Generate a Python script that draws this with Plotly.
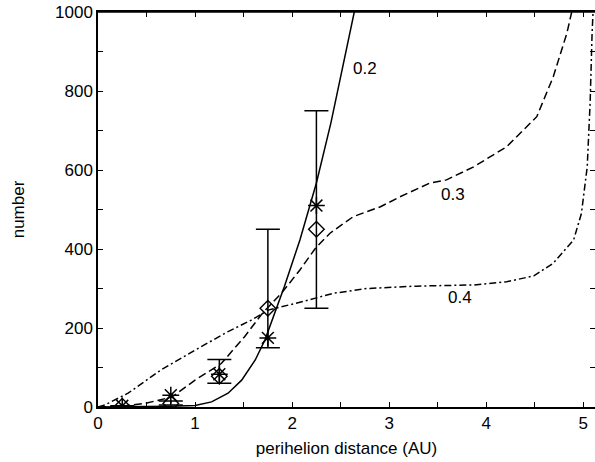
import plotly.graph_objects as go

# ---- data ----
curve02_x = [0, 0.25, 0.5, 0.75, 1.0, 1.17, 1.34, 1.48, 1.62, 1.72, 1.82, 1.92, 2.08, 2.25, 2.4, 2.53, 2.64]
curve02_y = [0, 0, 1, 2, 4, 13, 35, 68, 119, 170, 237, 305, 423, 567, 720, 870, 1000]

curve03_x = [0, 0.25, 0.48, 0.76, 1.0, 1.27, 1.51, 1.68, 1.75, 1.89, 2.08, 2.24, 2.39, 2.63, 2.91, 3.11,
             3.42, 3.59, 3.87, 4.21, 4.52, 4.69, 4.83, 4.88]
curve03_y = [0, 2, 9, 25, 68, 110, 178, 233, 252, 288, 347, 402, 440, 482, 507, 532,
             567, 575, 608, 659, 735, 836, 946, 1000]

curve04_x = [0, 0.07, 0.31, 0.65, 1.0, 1.34, 1.58, 1.76, 2.03, 2.43, 2.77, 3.28, 3.87, 4.21, 4.49, 4.69,
             4.90, 4.98, 5.04, 5.07, 5.09, 5.10]
curve04_y = [0, 5, 35, 94, 144, 191, 220, 246, 262, 288, 300, 306, 309, 317, 332, 364,
             423, 490, 608, 772, 946, 1000]

bin_x = [0.25, 0.75, 1.25, 1.75, 2.25]
star_y = [3, 30, 83, 175, 510]
diamond_y = [2, 9, 78, 250, 450]
obs_center = [2, 10, 90, 300, 500]
obs_err = [1, 5, 30, 150, 250]

curve_labels = ["0.2", "0.3", "0.4"]
label_x = [2.75, 3.66, 3.73]
label_y = [858, 537, 278]

x_tickvals = [0, 0.5, 1, 1.5, 2, 2.5, 3, 3.5, 4, 4.5, 5]
x_ticktext = ["0", "", "1", "", "2", "", "3", "", "4", "", "5"]
y_tickvals = [0, 100, 200, 300, 400, 500, 600, 700, 800, 900, 1000]
y_ticktext = ["0", "", "200", "", "400", "", "600", "", "800", "", "1000"]

FONT = "Liberation Sans, Arial, sans-serif"
FS = 17
fig = go.Figure()

fig.add_trace(go.Scatter(x=curve02_x, y=curve02_y, mode="lines",
                         line=dict(color="black", width=1.5), showlegend=False))
fig.add_trace(go.Scatter(x=curve03_x, y=curve03_y, mode="lines",
                         line=dict(color="black", width=1.5, dash="8px,4px"), showlegend=False))
fig.add_trace(go.Scatter(x=curve04_x, y=curve04_y, mode="lines",
                         line=dict(color="black", width=1.5, dash="7px,3px,2px,3px"), showlegend=False))

fig.add_trace(go.Scatter(x=bin_x, y=obs_center, mode="markers",
                         marker=dict(size=1, color="rgba(0,0,0,0)"),
                         error_y=dict(type="data", array=obs_err, visible=True,
                                      color="black", thickness=1.5, width=12),
                         showlegend=False))
fig.add_trace(go.Scatter(x=bin_x, y=star_y, mode="markers",
                         marker=dict(symbol="asterisk-open", size=14, color="black",
                                     line=dict(color="black", width=1.5)),
                         showlegend=False))
fig.add_trace(go.Scatter(x=bin_x, y=diamond_y, mode="markers",
                         marker=dict(symbol="diamond-open", size=12, color="black",
                                     line=dict(color="black", width=1.4)),
                         showlegend=False))

for t, lx, ly in zip(curve_labels, label_x, label_y):
    fig.add_annotation(x=lx, y=ly, text=t, showarrow=False,
                       font=dict(family=FONT, size=FS, color="black"))

axis_common = dict(showgrid=False, zeroline=False, showline=True, linecolor="black",
                   linewidth=1.5, mirror="ticks", ticks="inside", ticklen=5,
                   tickwidth=1.3, tickcolor="black", automargin=False,
                   ticklabeloverflow="allow",
                   tickfont=dict(family=FONT, size=FS, color="black"))

fig.update_xaxes(range=[0, 5.12], tickmode="array", tickvals=x_tickvals, ticktext=x_ticktext,
                 title=dict(text="perihelion distance (AU)", font=dict(family=FONT, size=FS, color="black"),
                            standoff=10),
                 **axis_common)
fig.update_yaxes(range=[0, 1000], tickmode="array", tickvals=y_tickvals, ticktext=y_ticktext,
                 title=dict(text="number", font=dict(family=FONT, size=FS, color="black"), standoff=26),
                 **axis_common)

# plot frame (top edge drawn explicitly)
fig.add_shape(type="line", xref="paper", yref="paper", x0=0, x1=1, y0=1, y1=1,
              line=dict(color="black", width=1.5))

fig.update_layout(width=595, height=462, margin=dict(l=98, r=0, t=12, b=55, autoexpand=False),
                  plot_bgcolor="white", paper_bgcolor="white")

# remove the browser's default 8px page margin so the figure sits at the window origin
fig.write_html("out.html", config={"displayModeBar": False},
               post_script="document.body.style.margin='0px';")
